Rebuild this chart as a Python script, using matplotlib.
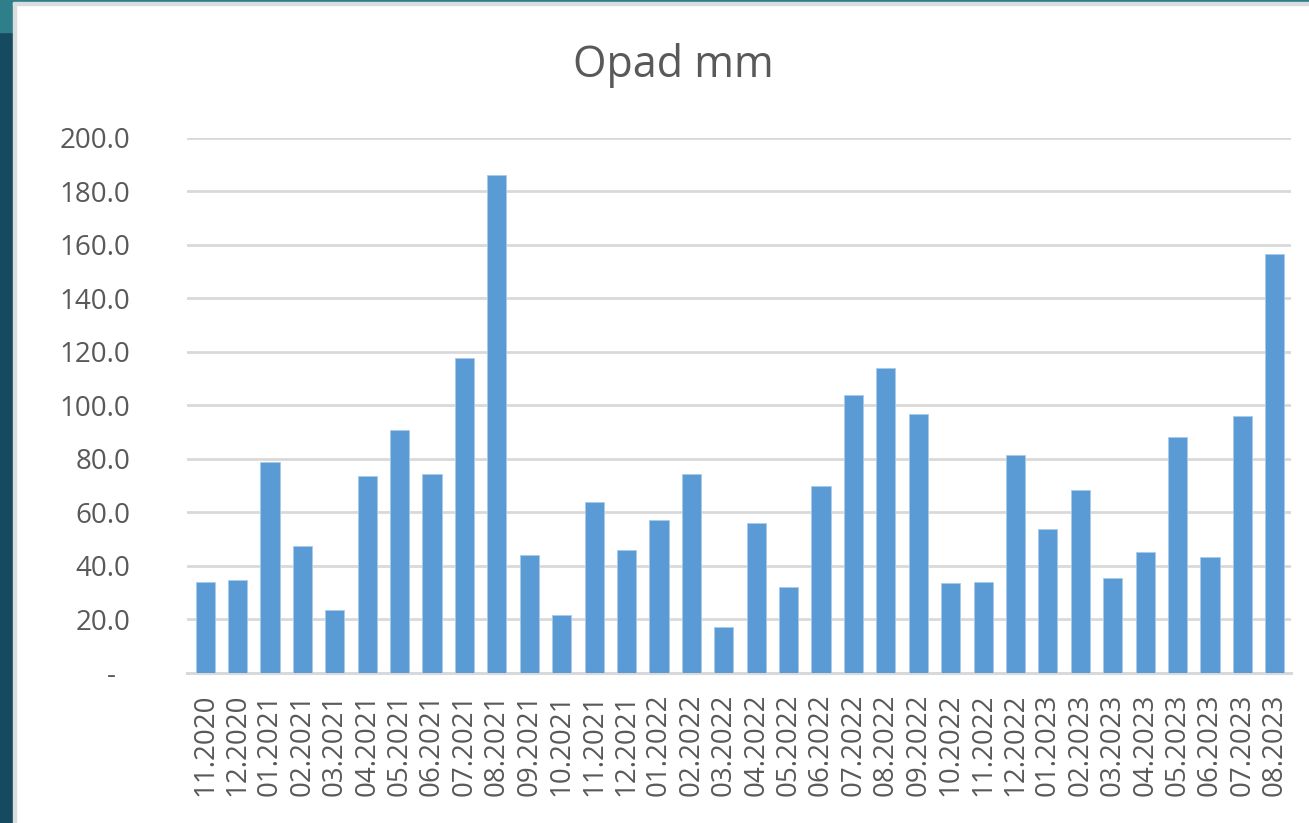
import numpy as np
import matplotlib
matplotlib.use("Agg")
from matplotlib import pyplot as plt
from matplotlib.patches import Rectangle

months = ["11.2020", "12.2020", "01.2021", "02.2021", "03.2021", "04.2021",
          "05.2021", "06.2021", "07.2021", "08.2021", "09.2021", "10.2021",
          "11.2021", "12.2021", "01.2022", "02.2022", "03.2022", "04.2022",
          "05.2022", "06.2022", "07.2022", "08.2022", "09.2022", "10.2022",
          "11.2022", "12.2022", "01.2023", "02.2023", "03.2023", "04.2023",
          "05.2023", "06.2023", "07.2023", "08.2023"]
opad = [34.0, 34.7, 78.9, 47.3, 23.5, 73.6, 90.9, 74.4, 117.8, 186.1, 43.9, 21.5,
        63.7, 45.9, 57.1, 74.2, 17.0, 55.9, 32.1, 69.7, 103.9, 113.8, 96.6, 33.4,
        34.1, 81.5, 53.8, 68.4, 35.4, 45.3, 88.1, 43.3, 96.0, 156.6]
yticks = [0, 20, 40, 60, 80, 100, 120, 140, 160, 180, 200]

plt.rcParams['font.family'] = ['Open Sans', 'DejaVu Sans']
txt = '#595959'

fig = plt.figure(figsize=(13.09, 8.23), dpi=100)
fig.patch.set_facecolor('white')

# screenshot frame (window edges)
fig.patches.append(Rectangle((0, 0), 13 / 1309, 1, transform=fig.transFigure,
                             color='#154A60', zorder=0))
fig.patches.append(Rectangle((0, 1 - 32 / 823), 13 / 1309, 32 / 823,
                             transform=fig.transFigure, color='#2E7F8A', zorder=0))
fig.patches.append(Rectangle((0, 1 - 2.5 / 823), 1, 2.5 / 823,
                             transform=fig.transFigure, color='#2E7F8A', zorder=0))
fig.patches.append(Rectangle((13 / 1309, 1 - 5 / 823), 1, 2.5 / 823,
                             transform=fig.transFigure, color='#DADDDE', zorder=0))
fig.patches.append(Rectangle((13 / 1309, 0), 2.5 / 1309, 1 - 2.5 / 823,
                             transform=fig.transFigure, color='#DADDDE', zorder=0))

ax = fig.add_axes([187 / 1309, 1 - 672.7 / 823, (1291 - 187) / 1309, (672.7 - 138) / 823])
x = np.arange(len(months))
ax.bar(x, opad, width=0.59, color='#5B9BD5', edgecolor='#A9CBEB', linewidth=0.6, zorder=3)

ax.set_xlim(-0.56, len(months) - 0.5)
ax.set_ylim(0, 200)
ax.set_yticks(yticks)
ax.set_yticklabels(["-  "] + ["%.1f" % v for v in yticks[1:]])
ax.set_xticks(x)
ax.set_xticklabels(months, rotation=90)

ax.grid(axis='y', color='#D9D9D9', linewidth=2.0, zorder=0)
ax.set_axisbelow(True)
for s in ['top', 'right', 'left']:
    ax.spines[s].set_visible(False)
ax.spines['bottom'].set_color('#D9D9D9')
ax.spines['bottom'].set_linewidth(2.2)
ax.tick_params(axis='y', length=0, pad=41, labelsize=20, labelcolor=txt)
ax.tick_params(axis='x', length=0, pad=15, labelsize=20, labelcolor=txt)

fig.text(673 / 1309, 1 - 65 / 823, "Opad mm", ha='center', va='center',
         fontsize=31, color=txt)

plt.savefig("out.png", dpi=100)
